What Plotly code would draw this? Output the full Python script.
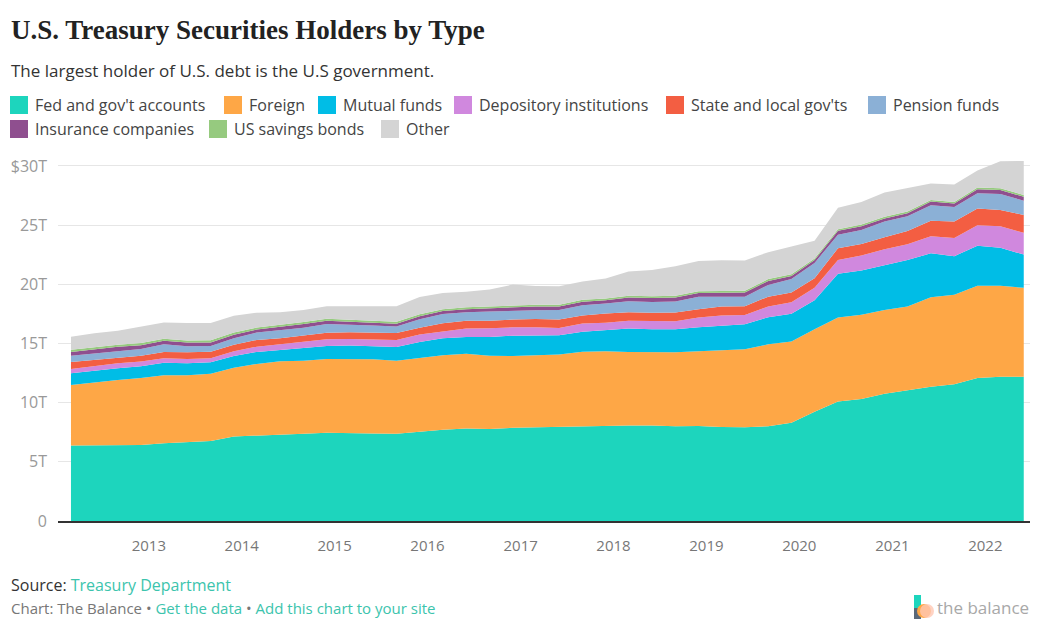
import pandas as pd
import plotly.graph_objs as go

# quarterly snapshots, trillions of dollars
dates = pd.date_range("2012-03-01", periods=42, freq="QS-MAR")

fed = [6.37, 6.39, 6.37, 6.43, 6.57, 6.68, 6.77, 7.15, 7.24, 7.34, 7.37, 7.46, 7.40, 7.40,
       7.37, 7.57, 7.71, 7.82, 7.77, 7.88, 7.92, 7.92, 8.00, 8.06, 8.06, 8.06, 8.00, 8.03,
       7.94, 7.92, 8.00, 8.31, 9.24, 10.09, 10.31, 10.76, 11.07, 11.35, 11.55, 12.09, 12.20, 12.20]
foreign = [5.13, 5.33, 5.55, 5.66, 5.74, 5.63, 5.68, 5.81, 6.03, 6.16, 6.18, 6.23, 6.26, 6.26,
           6.18, 6.21, 6.29, 6.32, 6.20, 6.06, 6.05, 6.14, 6.31, 6.28, 6.22, 6.22, 6.25, 6.31,
           6.49, 6.59, 6.93, 6.85, 6.97, 7.10, 7.12, 7.08, 7.05, 7.56, 7.57, 7.79, 7.68, 7.50]
mutual = [0.98, 0.99, 0.99, 0.98, 1.07, 1.02, 0.96, 0.99, 1.02, 0.95, 1.05, 1.10, 1.16, 1.13,
          1.16, 1.35, 1.44, 1.41, 1.58, 1.72, 1.69, 1.63, 1.69, 1.78, 1.98, 1.92, 1.95, 2.03,
          2.08, 2.11, 2.29, 2.35, 2.44, 3.70, 3.73, 3.80, 3.93, 3.71, 3.26, 3.37, 3.22, 2.81]
depository = [0.37, 0.39, 0.42, 0.40, 0.37, 0.37, 0.34, 0.39, 0.44, 0.48, 0.56, 0.57, 0.56, 0.57,
              0.59, 0.62, 0.59, 0.71, 0.73, 0.71, 0.71, 0.62, 0.68, 0.64, 0.67, 0.67, 0.67, 0.82,
              0.85, 0.79, 0.90, 0.97, 1.05, 1.17, 1.28, 1.32, 1.33, 1.44, 1.54, 1.75, 1.80, 1.84]
state_local = [0.59, 0.51, 0.50, 0.50, 0.54, 0.56, 0.56, 0.56, 0.57, 0.52, 0.52, 0.54, 0.57, 0.59,
               0.59, 0.59, 0.68, 0.67, 0.65, 0.65, 0.71, 0.71, 0.68, 0.77, 0.71, 0.72, 0.74, 0.71,
               0.76, 0.74, 0.84, 0.83, 0.81, 0.99, 0.96, 1.02, 1.13, 1.32, 1.38, 1.40, 1.39, 1.51]
pension = [0.53, 0.56, 0.57, 0.57, 0.64, 0.50, 0.48, 0.54, 0.62, 0.70, 0.66, 0.75, 0.65, 0.56,
           0.54, 0.71, 0.79, 0.71, 0.77, 0.76, 0.73, 0.82, 0.87, 0.84, 0.93, 0.92, 0.93, 1.06,
           0.87, 0.81, 0.99, 1.14, 1.30, 1.13, 1.20, 1.32, 1.24, 1.30, 1.23, 1.30, 1.35, 1.21]
insurance = [0.32, 0.33, 0.32, 0.32, 0.30, 0.32, 0.30, 0.30, 0.26, 0.27, 0.30, 0.28, 0.24, 0.26,
             0.24, 0.26, 0.24, 0.26, 0.29, 0.30, 0.31, 0.28, 0.30, 0.28, 0.32, 0.34, 0.34, 0.31,
             0.33, 0.35, 0.34, 0.26, 0.24, 0.34, 0.31, 0.27, 0.26, 0.31, 0.29, 0.34, 0.33, 0.32]
savings = [0.18, 0.18, 0.18, 0.18, 0.18, 0.18, 0.18, 0.18, 0.17, 0.17, 0.17, 0.17, 0.17, 0.17,
           0.17, 0.17, 0.16, 0.16, 0.16, 0.16, 0.16, 0.16, 0.16, 0.16, 0.15, 0.15, 0.15, 0.15,
           0.15, 0.15, 0.15, 0.15, 0.14, 0.14, 0.14, 0.14, 0.14, 0.14, 0.14, 0.14, 0.15, 0.16]
other = [1.11, 1.18, 1.17, 1.39, 1.36, 1.48, 1.47, 1.43, 1.25, 1.04, 1.01, 1.04, 1.14, 1.21,
         1.31, 1.44, 1.36, 1.32, 1.42, 1.74, 1.57, 1.56, 1.55, 1.68, 2.05, 2.20, 2.49, 2.55,
         2.56, 2.56, 2.28, 2.34, 1.50, 1.82, 1.90, 2.04, 1.98, 1.40, 1.47, 1.44, 2.28, 2.87]

names = ["Fed and gov't accounts", "Foreign", "Mutual funds", "Depository institutions",
         "State and local gov'ts", "Pension funds", "Insurance companies", "US savings bonds", "Other"]
colors = ["#1dd5bd", "#fea746", "#00bde6", "#d088de", "#f35e42", "#8bb0d6", "#8f4f8f", "#96ca7f", "#d4d4d4"]
series = [fed, foreign, mutual, depository, state_local, pension, insurance, savings, other]

y_ticks = [0, 5, 10, 15, 20, 25, 30]
y_labels = ["0", "5T", "10T", "15T", "20T", "25T", "$30T"]

# the page puts the plot 8px in from the corner, so work in screen pixels and subtract that
OFF = 8
W, H = 1030, 635
L, R, T, B = 50, 0, 151, 122
PW, PH = W - L - R, H - T - B


def px(x):
    return (x - OFF - L) / PW


def py(y):
    return (H - B - (y - OFF)) / PH


fig = go.Figure()
for name, col, vals in zip(names, colors, series):
    fig.add_trace(go.Scatter(x=dates, y=vals, name=name, stackgroup="one", mode="lines",
                             line=dict(width=0, color=col), fillcolor=col, showlegend=False))

font = "Open Sans, sans-serif"
ann = []
shapes = []

ann.append(dict(text="<b>U.S. Treasury Securities Holders by Type</b>", x=px(9), y=py(30),
                font=dict(family="Liberation Serif, serif", size=27, color="#222")))
ann.append(dict(text="The largest holder of U.S. debt is the U.S government.", x=px(9), y=py(70),
                font=dict(family=font, size=17, color="#333")))

# hand-placed legend with square swatches
legend_pos = [(10, 105), (224, 105), (318, 105), (454, 105), (666, 105), (868, 105),
              (10, 129), (209, 129), (381, 129)]
for name, col, (lx, ly) in zip(names, colors, legend_pos):
    shapes.append(dict(type="rect", xref="paper", yref="paper", x0=px(lx), x1=px(lx + 18),
                       y0=py(ly + 9), y1=py(ly - 9), fillcolor=col, line=dict(width=0)))
    ann.append(dict(text=name, x=px(lx + 23), y=py(ly),
                    font=dict(family=font, size=16, color="#444")))

link = "#3cc4ad"
ann.append(dict(text="Source: <span style='color:%s'>Treasury Department</span>" % link,
                x=px(9), y=py(585), font=dict(family=font, size=16, color="#333")))
ann.append(dict(text="Chart: The Balance • <span style='color:%s'>Get the data</span> • "
                     "<span style='color:%s'>Add this chart to your site</span>" % (link, link),
                x=px(9), y=py(608), font=dict(family=font, size=15, color="#777")))
ann.append(dict(text="the balance", x=px(935), y=py(607),
                font=dict(family=font, size=17, color="#a8a8a8")))

# logo mark
shapes.append(dict(type="rect", xref="paper", yref="paper", x0=px(914), x1=px(921),
                   y0=py(608), y1=py(595), fillcolor="#1dd5bd", line=dict(width=0)))
shapes.append(dict(type="rect", xref="paper", yref="paper", x0=px(914), x1=px(921),
                   y0=py(619), y1=py(608), fillcolor="#5b6878", line=dict(width=0)))
shapes.append(dict(type="circle", xref="paper", yref="paper", x0=px(917), x1=px(931),
                   y0=py(618), y1=py(604), fillcolor="#fea746", line=dict(width=0)))
shapes.append(dict(type="circle", xref="paper", yref="paper", x0=px(920), x1=px(934),
                   y0=py(618), y1=py(604), fillcolor="rgba(255,200,180,0.8)", line=dict(width=0)))

for a in ann:
    a.update(xref="paper", yref="paper", xanchor="left", yanchor="middle", showarrow=False)

fig.update_layout(
    width=W, height=H,
    margin=dict(l=L, r=R, t=T, b=B),
    paper_bgcolor="white", plot_bgcolor="white",
    showlegend=False,
    annotations=ann, shapes=shapes,
    xaxis=dict(type="date", range=["2012-01-10", "2022-07-27"], tick0="2013-01-01", dtick="M12",
               tickformat="%Y", showgrid=False, showline=True, linecolor="#333", linewidth=1.5,
               ticks="", ticklabelstandoff=10, tickfont=dict(family=font, size=15, color="#777")),
    yaxis=dict(range=[0, 30.59], tickvals=y_ticks, ticktext=y_labels, showgrid=True,
               gridcolor="#e6e6e6", gridwidth=1, zeroline=False, showline=False, ticks="",
               ticklabelstandoff=10, tickfont=dict(family=font, size=16, color="#999")),
    hovermode="x unified",
)

fig.write_html("out.html")
